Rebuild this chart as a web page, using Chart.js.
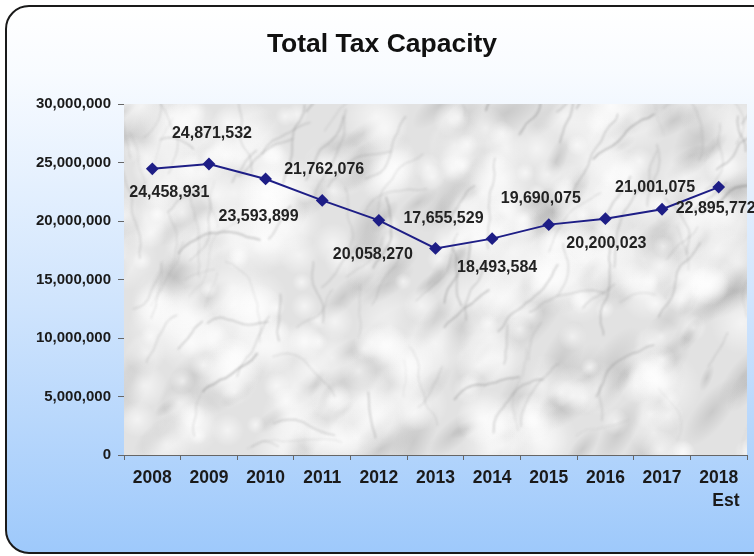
<!DOCTYPE html>
<html>
<head>
<meta charset="utf-8">
<script src="https://cdn.jsdelivr.net/npm/chart.js@4"></script>
<style>
    html, body { margin: 0; padding: 0; width: 754px; height: 556px; overflow: hidden; background: #fff; }
    #moldura {
        position: absolute; left: 5px; top: 5px; width: 790px; height: 545px;
        border: 2px solid #1a1a1a; border-radius: 24px;
        background: linear-gradient(#ffffff 0%, #f8fbff 12%, #cfe4fd 55%, #9ec9fb 100%);
    }
    #area { position: absolute; left: 0; top: 0; width: 754px; height: 556px; }
</style>
</head>
<body>
<div id="moldura"></div>
<div id="area"><canvas id="grafico" width="754" height="556"></canvas></div>
<script>
const anos = ["2008", "2009", "2010", "2011", "2012", "2013", "2014", "2015", "2016", "2017", ["2018", "   Est"]];
const capacidade = [24458931, 24871532, 23593899, 21762076, 20058270, 17655529, 18493584, 19690075, 20200023, 21001075, 22895772];
const ticksY = [0, 5000000, 10000000, 15000000, 20000000, 25000000, 30000000];

// onde fica cada rotulo em relacao ao ponto (px)
const deslocRotulos = [[17, 24], [3, -30], [-7, 38], [2, -31], [-6, 34], [8, -30], [5, 29], [-8, -26], [1, 25], [-7, -22], [-3, 21]];

const fonte = "'Liberation Sans', Arial, sans-serif";

function marmore(ctx, area) {
    let semente = 11;
    function rnd() {
        semente = (semente * 16807) % 2147483647;
        return (semente - 1) / 2147483646;
    }
    ctx.save();
    ctx.beginPath();
    ctx.rect(area.left, area.top, area.width, area.height);
    ctx.clip();
    ctx.fillStyle = "#e2e2e2";
    ctx.fillRect(area.left, area.top, area.width, area.height);

    // manchas cinzas alongadas
    for (let i = 0; i < 140; i++) {
        const x = area.left + rnd() * area.width;
        const y = area.top + rnd() * area.height;
        const r = 8 + rnd() * 22;
        ctx.save();
        ctx.translate(x, y);
        ctx.rotate(-0.8 + (rnd() - 0.5) * 0.8);
        ctx.scale(1.8, 0.7);
        const g = ctx.createRadialGradient(0, 0, 0, 0, 0, r);
        g.addColorStop(0, "rgba(145,145,145,0.3)");
        g.addColorStop(1, "rgba(145,145,145,0)");
        ctx.fillStyle = g;
        ctx.fillRect(-r, -r, r * 2, r * 2);
        ctx.restore();
    }
    // manchas claras
    for (let i = 0; i < 320; i++) {
        const x = area.left + rnd() * area.width;
        const y = area.top + rnd() * area.height;
        const r = 8 + rnd() * 28;
        const g = ctx.createRadialGradient(x, y, 0, x, y, r);
        g.addColorStop(0, "rgba(255,255,255,0.6)");
        g.addColorStop(1, "rgba(255,255,255,0)");
        ctx.fillStyle = g;
        ctx.fillRect(x - r, y - r, r * 2, r * 2);
    }

    // veios
    ctx.filter = "blur(1px)";
    ctx.lineCap = "round";
    ctx.lineJoin = "round";
    for (let i = 0; i < 110; i++) {
        let x = area.left + rnd() * area.width;
        let y = area.top + rnd() * area.height;
        let ang = -0.5 - rnd() * 1.3;
        const cinza = 95 + Math.floor(rnd() * 60);
        ctx.strokeStyle = "rgba(" + cinza + "," + cinza + "," + cinza + "," + (0.15 + rnd() * 0.25) + ")";
        ctx.lineWidth = 0.6 + rnd() * 1.3;
        ctx.beginPath();
        ctx.moveTo(x, y);
        const passos = 6 + Math.floor(rnd() * 10);
        for (let p = 0; p < passos; p++) {
            ang += (rnd() - 0.5) * 0.7;
            const passo = 3 + rnd() * 6;
            x += Math.cos(ang) * passo;
            y += Math.sin(ang) * passo;
            ctx.lineTo(x, y);
        }
        ctx.stroke();
    }
    ctx.restore();
}

const pluginFundo = {
    id: "fundo",
    beforeDatasetsDraw(chart) {
        marmore(chart.ctx, chart.chartArea);
    }
};

const pluginRotulos = {
    id: "rotulos",
    afterDatasetsDraw(chart) {
        const ctx = chart.ctx;
        const meta = chart.getDatasetMeta(0);
        ctx.save();
        ctx.font = "bold 16px " + fonte;
        ctx.fillStyle = "#222";
        ctx.textAlign = "center";
        ctx.textBaseline = "middle";
        meta.data.forEach((ponto, i) => {
            const d = deslocRotulos[i];
            ctx.fillText(capacidade[i].toLocaleString("en-US"), ponto.x + d[0], ponto.y + d[1]);
        });
        ctx.restore();
    }
};

// titulo desenhado a mao para acertar o centro da moldura
const pluginTitulo = {
    id: "titulo",
    afterDraw(chart) {
        const ctx = chart.ctx;
        ctx.save();
        ctx.font = "bold 26.5px " + fonte;
        ctx.fillStyle = "#111";
        ctx.textAlign = "center";
        ctx.textBaseline = "middle";
        ctx.fillText("Total Tax Capacity", 382, 45);
        ctx.restore();
    }
};

function criarGrafico() {
    const ctx = document.querySelector("#grafico");
    return new Chart(ctx, {
        type: "line",
        data: {
            labels: anos,
            datasets: [{
                data: capacidade,
                borderColor: "#1e1e86",
                backgroundColor: "#1e1e86",
                borderWidth: 2,
                pointStyle: "rectRot",
                pointRadius: 5,
                pointHoverRadius: 5,
                tension: 0
            }]
        },
        options: {
            responsive: false,
            animation: false,
            layout: { padding: { left: 0, right: 6, top: 104, bottom: 0 } },
            plugins: {
                legend: { display: false },
                tooltip: { enabled: false },
                title: { display: false }
            },
            scales: {
                x: {
                    offset: true,
                    grid: { offset: true, drawOnChartArea: false, color: "#666", tickLength: 5 },
                    border: { color: "#666", width: 1 },
                    ticks: {
                        color: "#1a1a1a",
                        font: { family: fonte, size: 17.5, weight: "bold", lineHeight: 1.3 },
                        padding: 7,
                        maxRotation: 0,
                        autoSkip: false
                    },
                    afterFit(scale) { scale.height = 101; }
                },
                y: {
                    min: 0,
                    max: 30000000,
                    afterBuildTicks(scale) { scale.ticks = ticksY.map(v => ({ value: v })); },
                    grid: { drawOnChartArea: false, color: "#666", tickLength: 6 },
                    border: { color: "#666", width: 1 },
                    ticks: {
                        color: "#1a1a1a",
                        font: { family: fonte, size: 15, weight: "bold" },
                        padding: 7,
                        callback: v => v.toLocaleString("en-US")
                    },
                    afterFit(scale) { scale.width = 124; }
                }
            }
        },
        plugins: [pluginFundo, pluginRotulos, pluginTitulo]
    });
}

criarGrafico();
</script>
</body>
</html>
